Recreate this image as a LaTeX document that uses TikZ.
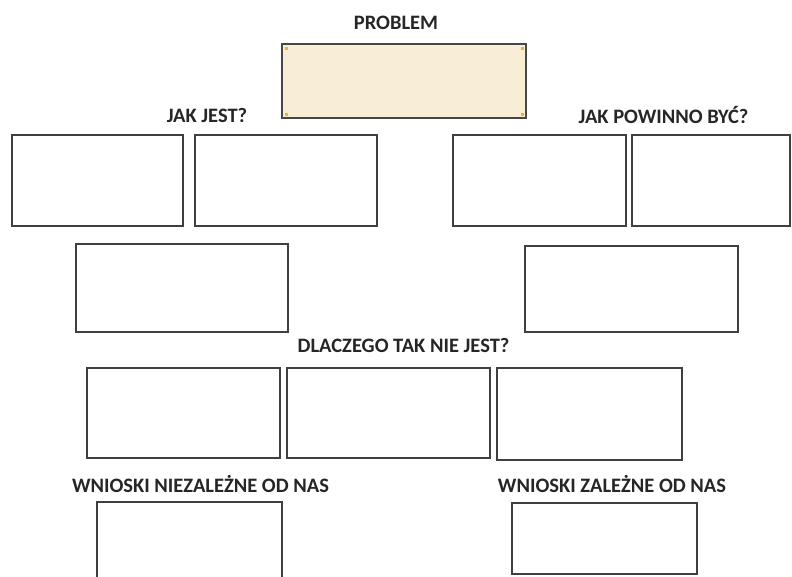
\documentclass[tikz,border=0pt]{standalone}
\usepackage{fontspec}
\setmainfont{Carlito}
\begin{document}
\begin{tikzpicture}[x=1pt,y=-1pt,
  box/.style={draw=black!75,line width=1.4pt,fill=white,inner sep=0pt,outer sep=0pt},
  probbox/.style={box,fill=problemfill,draw=black!72,line width=1.7pt},
  lbl/.style={font=\bfseries\fontsize{20.5}{22}\selectfont,text=black!85,inner sep=0pt,anchor=base},
  handle/.style={fill=handleorange,draw=none,minimum size=3pt,inner sep=0pt}]
\definecolor{problemfill}{HTML}{F7EED5}
\definecolor{handleorange}{HTML}{F0B429}
\useasboundingbox (0,0) rectangle (792,576);
\fill[white] (0,0) rectangle (792,576);
% title and problem box
\node[lbl] (tProblem) at (396,29) {PROBLEM};
\node[probbox,minimum width=244pt,minimum height=74pt] (problem) at (404,81) {};
\node[handle] (h1) at (286,48) {};
\node[handle] (h2) at (522,48) {};
\node[handle] (h3) at (286,114) {};
\node[handle] (h4) at (522,114) {};
% row 1
\node[lbl] (tJak) at (207,122) {JAK JEST?};
\node[lbl] (tPow) at (663.5,123) {JAK POWINNO BYĆ?};
\node[box,minimum width=171pt,minimum height=91pt] (a) at (97.5,180.5) {};
\node[box,minimum width=182pt,minimum height=91pt] (b) at (286,180.5) {};
\node[box,minimum width=173pt,minimum height=91pt] (c) at (539.5,180.5) {};
\node[box,minimum width=158pt,minimum height=91pt] (d) at (711,180.5) {};
% row 2
\node[box,minimum width=212pt,minimum height=88pt] (e) at (182,288) {};
\node[box,minimum width=213pt,minimum height=86pt] (f) at (631.5,289) {};
% row 3
\node[lbl] (tWhy) at (403.5,352) {DLACZEGO TAK NIE JEST?};
\node[box,minimum width=193pt,minimum height=90pt] (g) at (183.5,413) {};
\node[box,minimum width=203pt,minimum height=90pt] (h) at (388.5,413) {};
\node[box,minimum width=185pt,minimum height=92pt] (i) at (589.5,414) {};
% conclusions
\node[lbl] (tNot) at (200.5,492) {WNIOSKI NIEZALEŻNE OD NAS};
\node[lbl] (tDep) at (612,492) {WNIOSKI ZALEŻNE OD NAS};
\node[box,minimum width=185pt,minimum height=86pt] (j) at (189.5,545) {};
\node[box,minimum width=185pt,minimum height=71pt] (k) at (604.5,538.5) {};
\end{tikzpicture}
\end{document}
